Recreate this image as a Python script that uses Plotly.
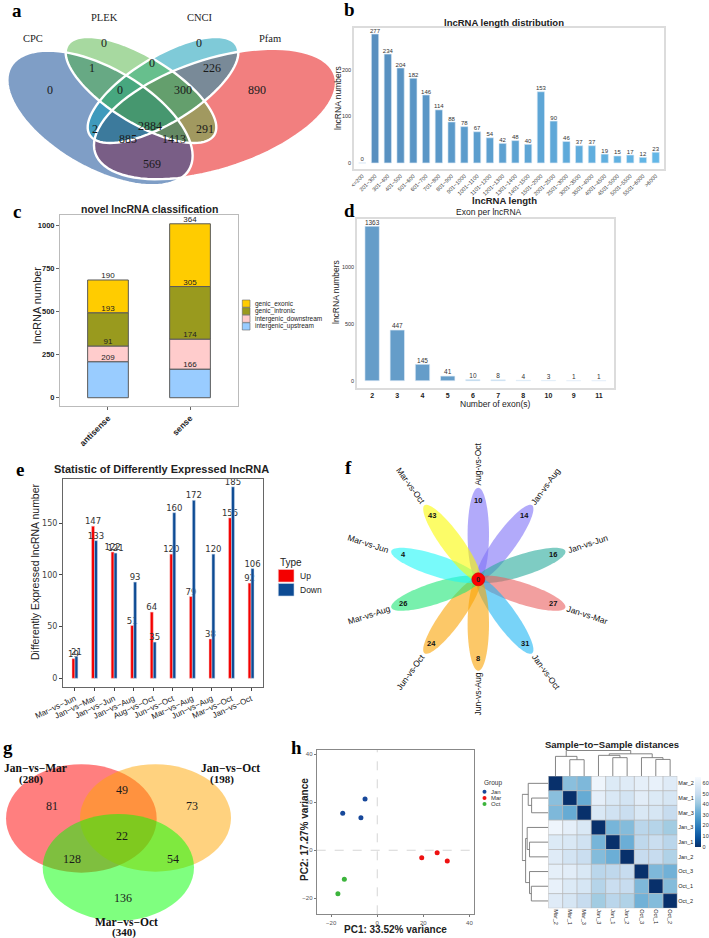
import numpy as np
import plotly.graph_objects as go

W, H = 709, 938
SANS = "Liberation Sans, Arial, sans-serif"
SERIF = "Liberation Serif, Times New Roman, serif"
DJV = "DejaVu Sans, sans-serif"

# ---------------- data ----------------
# a: four-set Venn
venn4_sets = ["CPC", "PLEK", "CNCI", "Pfam"]
venn4_regions = ["CPC", "PLEK", "CNCI", "Pfam", "CPC&PLEK", "PLEK&CNCI", "CNCI&Pfam",
                 "CPC&PLEK&CNCI", "PLEK&CNCI&Pfam", "ALL", "CPC&CNCI", "PLEK&Pfam",
                 "CPC&CNCI&Pfam", "CPC&PLEK&Pfam", "CPC&Pfam"]
venn4_counts = [0, 0, 0, 890, 1, 0, 226, 0, 300, 2884, 2, 291, 885, 1413, 569]

# b: length distribution
len_bins = ["<=200", "201~300", "301~400", "401~500", "501~600", "601~700", "701~800",
            "801~900", "901~1000", "1001~1100", "1101~1200", "1201~1300", "1301~1400",
            "1401~1500", "1501~2000", "2001~2500", "2501~3000", "3001~3500", "3501~4000",
            "4001~4500", "4501~5000", "5001~5500", "5501~6000", ">6000"]
len_counts = [0, 277, 234, 204, 182, 146, 114, 88, 78, 67, 54, 42, 48, 40, 153, 90, 46,
              37, 37, 19, 15, 17, 12, 23]

# c: classification
cls_groups = ["antisense", "sense"]
cls_upstream = [209, 166]
cls_downstream = [91, 174]
cls_intronic = [193, 305]
cls_exonic = [190, 364]

# d: exon number
exon_cats = ["2", "3", "4", "5", "6", "7", "8", "10", "9", "11"]
exon_counts = [1363, 447, 145, 41, 10, 8, 4, 3, 1, 1]

# e: differently expressed
de_pairs = ["Mar−vs−Jun", "Jan−vs−Mar", "Jan−vs−Jun", "Jan−vs−Aug", "Aug−vs−Oct",
            "Jun−vs−Oct", "Mar−vs−Aug", "Jun−vs−Aug", "Mar−vs−Oct", "Jan−vs−Oct"]
de_up = [19, 147, 122, 51, 64, 120, 79, 38, 155, 92]
de_down = [21, 133, 121, 93, 35, 160, 172, 120, 185, 106]

# f: flower
flower_names = ["Aug-vs-Oct", "Jan-vs-Aug", "Jan-vs-Jun", "Jan-vs-Mar", "Jan-vs-Oct",
                "Jun-vs-Aug", "Jun-vs-Oct", "Mar-vs-Aug", "Mar-vs-Jun", "Mar-vs-Oct"]
flower_values = [10, 14, 16, 27, 31, 8, 24, 26, 4, 43]
flower_core = 0

# g: three-set Venn
venn3_sets = ["Jan−vs−Mar", "Jan−vs−Oct", "Mar−vs−Oct"]
venn3_totals = [280, 198, 340]
venn3_regions = ["A", "AB", "B", "ABC", "AC", "BC", "C"]
venn3_counts = [81, 49, 73, 22, 128, 54, 136]

# h: PCA
pca_jan_x = [-15.0, -5.3, -7.1]
pca_jan_y = [15.4, 21.4, 13.6]
pca_mar_x = [19.3, 26.0, 30.4]
pca_mar_y = [-3.1, -1.0, -4.5]
pca_oct_x = [-14.3, -17.1]
pca_oct_y = [-12.1, -18.1]

# h: sample distances
samples = ["Mar_2", "Mar_1", "Mar_3", "Jan_3", "Jan_1", "Jan_2", "Oct_3", "Oct_1", "Oct_2"]
dist = [
    [0, 38, 36, 63, 57, 58, 60, 61, 58],
    [38, 0, 32, 60, 56, 54, 59, 57, 55],
    [36, 32, 0, 56, 53, 51, 56, 55, 50],
    [63, 60, 56, 0, 35, 37, 47, 46, 42],
    [57, 56, 53, 35, 0, 33, 48, 51, 47],
    [58, 54, 51, 37, 33, 0, 50, 50, 45],
    [60, 59, 56, 47, 48, 50, 0, 36, 34],
    [61, 57, 55, 46, 51, 50, 36, 0, 37],
    [58, 55, 50, 42, 47, 45, 34, 37, 0],
]
dend_merges = [(1, 2, 64), (0, 9, 77), (4, 5, 72), (3, 11, 81), (7, 8, 65),
               (6, 13, 72), (12, 14, 87), (10, 15, 100)]


# ---------------- helpers ----------------
def dx(l, r):
    return [l / W, r / W]


def dy(t, b):
    return [1 - b / H, 1 - t / H]


def esc(t):
    return t.replace("<", "&lt;").replace(">", "&gt;")


shapes = []
annotations = []


def A(x, y, text, size, color="#222", family=SANS, angle=0, xa="center", ya="middle"):
    annotations.append(dict(x=x, y=y, xref="x9", yref="y9", text=text, showarrow=False,
                            font=dict(size=size, color=color, family=family),
                            textangle=angle, xanchor=xa, yanchor=ya))


def ellipse_path(cx, cy, a, b, ang_deg, n=90):
    t = np.linspace(0, 2 * np.pi, n, endpoint=False)
    r = np.deg2rad(ang_deg)
    xs = cx + a * np.cos(t) * np.cos(r) - b * np.sin(t) * np.sin(r)
    ys = cy + a * np.cos(t) * np.sin(r) + b * np.sin(t) * np.cos(r)
    return "M " + " L ".join(f"{x:.2f},{y:.2f}" for x, y in zip(xs, ys)) + " Z"


def S(**kw):
    d = dict(xref="x9", yref="y9", layer="above")
    d.update(kw)
    shapes.append(d)


fig = go.Figure()

# ---------------- panel b ----------------
nb = len(len_bins)
c0 = np.array([88, 142, 190])
c1 = np.array([99, 183, 231])
b_colors = ["rgb(%d,%d,%d)" % tuple(c0 + (c1 - c0) * i / (nb - 1)) for i in range(nb)]
fig.add_trace(go.Bar(x=len_bins, y=len_counts, width=0.57,
                     marker=dict(color=b_colors, line=dict(color="#d6e8f5", width=0.6)),
                     xaxis="x", yaxis="y"))
fig.add_trace(go.Scatter(x=len_bins, y=len_counts, mode="text",
                         text=[str(v) for v in len_counts], textposition="top center",
                         textfont=dict(size=6, color="#333", family=SANS),
                         cliponaxis=False, xaxis="x", yaxis="y"))

# ---------------- panel c ----------------
cls_series = [("intergenic_upstream", cls_upstream, "#99CCFF"),
              ("intergenic_downstream", cls_downstream, "#FFCCCC"),
              ("genic_intronic", cls_intronic, "#999A1E"),
              ("genic_exonic", cls_exonic, "#FFCC00")]
base = np.zeros(len(cls_groups))
for name, vals, col in cls_series:
    fig.add_trace(go.Bar(x=cls_groups, y=vals, base=base.tolist(), width=0.496, name=name,
                         marker=dict(color=col, line=dict(color="#5a5a5a", width=1)),
                         xaxis="x2", yaxis="y2"))
    top = base + np.array(vals)
    fig.add_trace(go.Scatter(x=cls_groups, y=top.tolist(), mode="text",
                             text=[str(v) for v in vals], textposition="top center",
                             textfont=dict(size=8, color="#222", family=SANS),
                             cliponaxis=False, xaxis="x2", yaxis="y2"))
    base = top

# ---------------- panel d ----------------
d_colors = ["#659dc9", "#659dc9", "#659dc9", "#659dc9", "#8fbbe0", "#9fc6e6",
            "#b3d3ee", "#c2dcf2", "#d0e4f5", "#dae9f7"]
fig.add_trace(go.Bar(x=exon_cats, y=exon_counts, width=0.57,
                     marker=dict(color=d_colors, line=dict(color="#e2eef8", width=0.6)),
                     xaxis="x3", yaxis="y3"))
fig.add_trace(go.Scatter(x=exon_cats, y=exon_counts, mode="text",
                         text=[str(v) for v in exon_counts], textposition="top center",
                         textfont=dict(size=6.5, color="#333", family=SANS),
                         cliponaxis=False, xaxis="x3", yaxis="y3"))

# ---------------- panel e ----------------
fig.add_trace(go.Bar(x=de_pairs, y=de_up, offset=-0.15, width=0.15, name="Up",
                     marker=dict(color="#f40000", line=dict(color="#f6c6c6", width=0.5)),
                     text=[str(v) for v in de_up], textposition="outside",
                     textfont=dict(size=8.5, color="#333", family=DJV),
                     constraintext="none", cliponaxis=False, xaxis="x4", yaxis="y4"))
fig.add_trace(go.Bar(x=de_pairs, y=de_down, offset=0.0, width=0.15, name="Down",
                     marker=dict(color="#0d4b94", line=dict(color="#c8d6ea", width=0.5)),
                     text=[str(v) for v in de_down], textposition="outside",
                     textfont=dict(size=8.5, color="#333", family=DJV),
                     constraintext="none", cliponaxis=False, xaxis="x4", yaxis="y4"))

# ---------------- panel h: PCA ----------------
for xs_, ys_, col in [(pca_jan_x, pca_jan_y, "#17489a"), (pca_mar_x, pca_mar_y, "#ee1111"),
                      (pca_oct_x, pca_oct_y, "#3cb43c")]:
    fig.add_trace(go.Scatter(x=xs_, y=ys_, mode="markers",
                             marker=dict(size=5, color=col), xaxis="x5", yaxis="y5"))

# ---------------- panel h: heatmap ----------------
fig.add_trace(go.Heatmap(z=dist, x=samples, y=samples, colorscale="Blues", reversescale=True,
                         zmin=0, zmax=66, xaxis="x6", yaxis="y6",
                         colorbar=dict(x=695 / W, xanchor="left", y=1 - 776.7 / H, yanchor="top",
                                       len=70, lenmode="pixels", thickness=6,
                                       thicknessmode="pixels", tickvals=[0, 10, 20, 30, 40, 50, 60],
                                       tickfont=dict(size=5.5, color="#333"), outlinewidth=0,
                                       ticks="", xpad=0, ypad=0)))


def dendro_lines(merges, n):
    pos = {i: float(i) for i in range(n)}
    hgt = {i: 0.0 for i in range(n)}
    xs, ys = [], []
    for k, (a, b, h) in enumerate(merges):
        node = n + k
        xs += [pos[a], pos[a], pos[b], pos[b], None]
        ys += [hgt[a], h, h, hgt[b], None]
        pos[node] = (pos[a] + pos[b]) / 2
        hgt[node] = h
    return xs, ys


dxs, dys = dendro_lines(dend_merges, len(samples))
fig.add_trace(go.Scatter(x=dxs, y=dys, mode="lines", line=dict(color="#777", width=0.9),
                         cliponaxis=False, xaxis="x7", yaxis="y7"))
fig.add_trace(go.Scatter(x=dys, y=dxs, mode="lines", line=dict(color="#777", width=0.9),
                         cliponaxis=False, xaxis="x8", yaxis="y8"))

# canvas dummy trace
fig.add_trace(go.Scatter(x=[0], y=[0], mode="markers", marker=dict(opacity=0), xaxis="x9", yaxis="y9"))

# ---------------- panel a: shapes ----------------
venn4_geom = {  # cx, cy, a, b, angle(screen deg)
    "Pfam": (215, 114, 126, 55, -18),
    "CPC": (100, 118, 103, 50, 30),
    "CNCI": (163, 90, 86, 33, -31.5),
    "PLEK": (141, 90, 86, 33, 31.5),
}
venn4_fill = {"Pfam": "rgba(229,0,0,0.5)", "CPC": "rgba(0,62,142,0.5)",
              "CNCI": "rgba(0,150,177,0.5)", "PLEK": "rgba(80,180,65,0.5)"}
draw_order = ["Pfam", "CPC", "CNCI", "PLEK"]
for s in draw_order:
    S(type="path", path=ellipse_path(*venn4_geom[s]), fillcolor=venn4_fill[s], line=dict(width=0))
for s in draw_order:
    S(type="path", path=ellipse_path(*venn4_geom[s]), fillcolor="rgba(0,0,0,0)",
      line=dict(color="white", width=2.4))
venn4_label_pos = {"CPC": (33, 38), "PLEK": (104, 17), "CNCI": (200, 17), "Pfam": (270, 38)}
for s in venn4_sets:
    A(*venn4_label_pos[s], s, 10.5, color="#222", family=SERIF)
venn4_num_pos = {"CPC": (50, 90), "PLEK": (104, 43), "CNCI": (199, 43), "Pfam": (257, 90),
                 "CPC&PLEK": (92, 68), "PLEK&CNCI": (152, 63), "CNCI&Pfam": (212, 68),
                 "CPC&PLEK&CNCI": (120, 90), "PLEK&CNCI&Pfam": (183, 90), "ALL": (150, 126),
                 "CPC&CNCI": (95, 129), "PLEK&Pfam": (205, 129), "CPC&CNCI&Pfam": (128, 139),
                 "CPC&PLEK&Pfam": (174, 139), "CPC&Pfam": (152, 164)}
for r, v in zip(venn4_regions, venn4_counts):
    A(*venn4_num_pos[r], str(v), 12, color="#1a1a1a", family=SERIF)

# ---------------- panel c legend ----------------
leg_c = list(reversed(cls_series))
for i, (name, vals, col) in enumerate(leg_c):
    y0 = 300 + i * 7.6
    S(type="rect", x0=242.3, x1=250, y0=y0, y1=y0 + 7.2, fillcolor=col,
      line=dict(color="#666", width=0.6))
    A(252.7, y0 + 3.6, name, 6.5, xa="left")

# ---------------- panel e legend ----------------
A(278, 562, "Type", 10, xa="left")
S(type="rect", x0=278.3, x1=294, y0=569.5, y1=582, fillcolor="#f40000", line=dict(color="#f6c6c6", width=0.6))
S(type="rect", x0=278.3, x1=294, y0=583.5, y1=596, fillcolor="#0d4b94", line=dict(color="#c8d6ea", width=0.6))
A(297.7, 576, "Up", 8.5, xa="left")
A(297.7, 590, "Down", 8.5, xa="left")

# ---------------- panel f: flower ----------------
flower_angles = [90, 54, 18, -18, -54, -90, -126, -162, 162, 126]
flower_fill = ["rgba(126,113,247,0.6)", "rgba(126,113,247,0.6)", "rgba(40,170,155,0.6)",
               "rgba(233,95,95,0.6)", "rgba(30,182,243,0.6)", "rgba(250,163,3,0.6)",
               "rgba(250,163,3,0.6)", "rgba(30,230,118,0.6)", "rgba(30,247,247,0.6)",
               "rgba(250,250,3,0.6)"]
FC = (478.3, 579.3)
for name, val, ang, col in zip(flower_names, flower_values, flower_angles, flower_fill):
    r = np.deg2rad(ang)
    ux, uy = np.cos(r), -np.sin(r)
    S(type="path", path=ellipse_path(FC[0] + 45 * ux, FC[1] + 45 * uy, 46.5, 10.7, -ang),
      fillcolor=col, line=dict(width=0))
for name, val, ang in zip(flower_names, flower_values, flower_angles):
    r = np.deg2rad(ang)
    ux, uy = np.cos(r), -np.sin(r)
    A(FC[0] + 79 * ux, FC[1] + 79 * uy, "<b>%d</b>" % val, 7.5, color="#111")
    c = np.cos(r)
    if c > 1e-6:
        ta = -ang
    elif c < -1e-6:
        ta = 180 - ang
        if ta > 180:
            ta -= 360
    else:
        ta = -90
    A(FC[0] + 115 * ux, FC[1] + 115 * uy, name, 8.5, color="#111", angle=ta)
S(type="circle", x0=FC[0] - 6.5, x1=FC[0] + 6.5, y0=FC[1] - 6.5, y1=FC[1] + 6.5,
  fillcolor="#ff0000", line=dict(color="#d00000", width=0.6))
A(FC[0], FC[1], "<b>%d</b>" % flower_core, 7.5, color="#222")

# ---------------- panel g: three-set Venn ----------------
venn3_geom = [(6, 764.3, 156.7, 872.7), (80, 764.3, 231, 871.7), (42.7, 814, 194, 920.7)]
venn3_fill = ["rgba(255,0,0,0.5)", "rgba(255,165,0,0.5)", "rgba(0,255,0,0.5)"]
for (x0, y0, x1, y1), col in zip(venn3_geom, venn3_fill):
    S(type="circle", x0=x0, x1=x1, y0=y0, y1=y1, fillcolor=col, line=dict(width=0))
venn3_num_pos = {"A": (51.7, 806), "AB": (121.7, 790), "B": (191.7, 806), "ABC": (121.7, 836),
                 "AC": (71.7, 859), "BC": (173.3, 859), "C": (123.3, 898)}
for r, v in zip(venn3_regions, venn3_counts):
    A(*venn3_num_pos[r], str(v), 12, color="#1a1a1a", family=SERIF)
venn3_lab_pos = [(35, 767.5, 31, 779), (230, 767.5, 222, 779), (126, 921.5, 124, 932)]
for name, tot, (lx, ly, tx, ty) in zip(venn3_sets, venn3_totals, venn3_lab_pos):
    A(lx, ly, "<b>%s</b>" % name, 11.5, color="#111", family=SERIF)
    A(tx, ty, "<b>(%d)</b>" % tot, 11, color="#111", family=SERIF)

# ---------------- panel h legend / PCA lines ----------------
A(482, 783, "Group", 6.5, xa="left", color="#333")
for i, (nm, col) in enumerate([("Jan", "#17489a"), ("Mar", "#ee1111"), ("Oct", "#3cb43c")]):
    yy = 791.7 + i * 6.2
    S(type="circle", x0=482.5, x1=486.5, y0=yy - 2, y1=yy + 2, fillcolor=col, line=dict(width=0))
    A(489, yy, nm, 6, xa="left", color="#333")
shapes.append(dict(type="line", xref="x5", yref="y5 domain", x0=0, x1=0, y0=0, y1=1,
                   line=dict(color="#cccccc", width=0.8, dash="dash"), layer="below"))
shapes.append(dict(type="line", xref="x5 domain", yref="y5", x0=0, x1=1, y0=0, y1=0,
                   line=dict(color="#cccccc", width=0.8, dash="dash"), layer="below"))

# heatmap grid
for k in range(len(samples) + 1):
    shapes.append(dict(type="line", xref="x6", yref="y6", x0=k - 0.5, x1=k - 0.5, y0=-0.5, y1=8.5,
                       line=dict(color="#b8b8b8", width=0.8), layer="above"))
    shapes.append(dict(type="line", xref="x6", yref="y6", y0=k - 0.5, y1=k - 0.5, x0=-0.5, x1=8.5,
                       line=dict(color="#b8b8b8", width=0.8), layer="above"))

# ---------------- titles / axis titles ----------------
A(504, 22, "<b>lncRNA length distribution</b>", 9.5)
A(504, 200, "<b>lncRNA length</b>", 9.5)
A(338, 98, "lncRNA numbers", 8.5, angle=-90)
A(149, 209, "<b>novel lncRNA classification</b>", 10.5)
A(37, 306, "lncRNA number", 11, angle=-90)
A(489, 212, "Exon per lncRNA", 8.5)
A(495, 404, "Number of exon(s)", 8.5)
A(336, 292, "lncRNA numbers", 8.5, angle=-90)
A(161, 469, "<b>Statistic of Differently Expressed lncRNA</b>", 11)
A(35, 572, "Differently Expressed lncRNA number", 10.5, angle=-90)
A(395, 929, "<b>PC1: 33.52% variance</b>", 10)
A(304, 830, "<b>PC2: 17.27% variance</b>", 10, angle=-90)
A(612, 744, "<b>Sample−to−Sample distances</b>", 9.5)

# panel letters
for t, x, y in [("a", 17, 10), ("b", 349, 9), ("c", 17, 211), ("d", 349, 210), ("e", 20, 469),
                ("f", 348, 467), ("g", 8, 747), ("h", 296, 747)]:
    A(x, y, "<b>%s</b>" % t, 19, color="#000", family=SERIF)

# ---------------- axes ----------------
base_ax = dict(showgrid=False, zeroline=False, fixedrange=True, automargin=False)


def ax(**kw):
    d = dict(base_ax)
    d.update(kw)
    return d


layout = dict(
    template="none",
    width=W, height=H, margin=dict(l=0, r=0, t=0, b=0, pad=0, autoexpand=False), autosize=False,
    paper_bgcolor="white", plot_bgcolor="rgba(0,0,0,0)", showlegend=False,
    barmode="overlay", font=dict(family=SANS, color="#222"),
    shapes=shapes, annotations=annotations,
    # b
    xaxis=ax(domain=dx(354, 664), anchor="y", type="category", range=[-0.65, 23.65],
             tickmode="array", tickvals=len_bins, ticktext=[esc(t) for t in len_bins],
             tickangle=-45, tickfont=dict(size=5.5, color="#333"), ticks="",
             showline=True, mirror=True, linecolor="#dcdcdc", linewidth=1.5),
    yaxis=ax(domain=dy(28, 169), anchor="x", range=[-13, 290], tickvals=[0, 100, 200],
             tickfont=dict(size=5.5, color="#333"), ticks="",
             showline=True, mirror=True, linecolor="#dcdcdc", linewidth=1.5),
    # c
    xaxis2=ax(domain=dx(60, 238), anchor="y2", type="category", range=[-0.585, 1.585],
              tickmode="array", tickvals=cls_groups, ticktext=["<b>%s</b>" % g for g in cls_groups],
              tickangle=-45, tickfont=dict(size=8.5, color="#222"), ticks="outside",
              ticklen=3, tickcolor="#666", showline=True, mirror=True, linecolor="#bbbbbb",
              linewidth=1),
    yaxis2=ax(domain=dy(215, 406), anchor="x2", range=[-48, 1060],
              tickvals=[0, 250, 500, 750, 1000],
              ticktext=["<b>%d</b>" % v for v in [0, 250, 500, 750, 1000]],
              tickfont=dict(size=7.5, color="#222"), ticks="outside", ticklen=3,
              tickcolor="#666", showline=True, mirror=True, linecolor="#bbbbbb", linewidth=1),
    # d
    xaxis3=ax(domain=dx(357, 614), anchor="y3", type="category", range=[-0.6, 9.6],
              tickmode="array", tickvals=exon_cats, ticktext=["<b>%s</b>" % c for c in exon_cats],
              tickfont=dict(size=7, color="#222"), ticks="",
              showline=True, mirror=True, linecolor="#dcdcdc", linewidth=1.5),
    yaxis3=ax(domain=dy(219, 388), anchor="x3", range=[-64, 1426], tickvals=[0, 500, 1000],
              tickfont=dict(size=5.5, color="#333"), ticks="",
              showline=True, mirror=True, linecolor="#dcdcdc", linewidth=1.5),
    # e
    xaxis4=ax(domain=dx(63, 263), anchor="y4", type="category", range=[-0.61, 9.61],
              tickmode="array", tickvals=de_pairs, ticktext=de_pairs, tickangle=-25,
              tickfont=dict(size=8, color="#222"), ticks="outside", ticklen=3,
              tickcolor="#444", showline=True, mirror=True, linecolor="#666", linewidth=1),
    yaxis4=ax(domain=dy(479, 687), anchor="x4", range=[-8.4, 192.6], tickvals=[0, 50, 100, 150],
              tickfont=dict(size=8, color="#444", family=DJV), ticks="outside", ticklen=3,
              tickcolor="#444", showline=True, mirror=True, linecolor="#666", linewidth=1),
    # h PCA
    xaxis5=ax(domain=dx(316.7, 474), anchor="y5", range=[-26.3, 42], tickvals=[-20, 0, 20, 40],
              tickfont=dict(size=6, color="#555"), ticks="outside", ticklen=2,
              tickcolor="#777", showline=True, mirror=True, linecolor="#888", linewidth=1),
    yaxis5=ax(domain=dy(750, 914.3), anchor="x5", range=[-26.7, 41.8], tickvals=[-20, 0, 20, 40],
              tickfont=dict(size=6, color="#555"), ticks="outside", ticklen=2,
              tickcolor="#777", showline=True, mirror=True, linecolor="#888", linewidth=1),
    # heatmap
    xaxis6=ax(domain=dx(548.3, 677.3), anchor="y6", type="category", range=[-0.5, 8.5],
              tickmode="array", tickvals=samples, ticktext=samples, tickangle=90,
              tickfont=dict(size=5.5, color="#222"), ticks="", showline=False),
    yaxis6=ax(domain=dy(776, 908.3), anchor="x6", type="category", range=[8.5, -0.5],
              tickmode="array", tickvals=samples, ticktext=samples, side="right",
              tickfont=dict(size=5.5, color="#222"), ticks="", showline=False),
    # dendrograms
    xaxis7=ax(domain=dx(548.3, 677.3), anchor="y7", range=[-0.5, 8.5], visible=False),
    yaxis7=ax(domain=dy(750, 776), anchor="x7", range=[0, 102], visible=False),
    xaxis8=ax(domain=dx(521.7, 548.3), anchor="y8", range=[102, 0], visible=False),
    yaxis8=ax(domain=dy(776, 908.3), anchor="x8", range=[8.5, -0.5], visible=False),
    # canvas
    xaxis9=ax(domain=[0, 1], anchor="y9", range=[0, W], visible=False),
    yaxis9=ax(domain=[0, 1], anchor="x9", range=[H, 0], visible=False),
)
fig.update_layout(**layout)
fig.write_html("out.html", config={"displayModeBar": False},
               post_script="document.body.style.margin='0px';document.body.style.padding='0px';"
                           "document.body.style.overflow='hidden';")
